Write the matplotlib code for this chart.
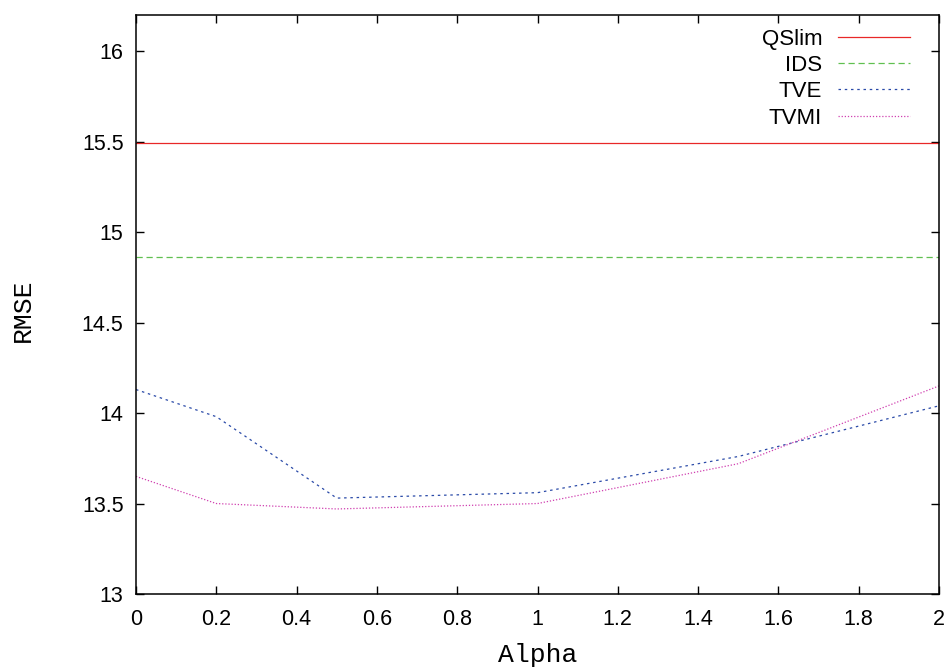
import matplotlib
matplotlib.use('Agg')
import matplotlib.pyplot as plt

# datos
alpha = [0, 0.2, 0.5, 1, 1.5, 2]
qslim = [15.495] * len(alpha)
ids = [14.865] * len(alpha)
tve = [14.13, 13.98, 13.53, 13.56, 13.76, 14.04]
tvmi = [13.65, 13.50, 13.47, 13.50, 13.72, 14.15]

xticks = [0, 0.2, 0.4, 0.6, 0.8, 1, 1.2, 1.4, 1.6, 1.8, 2]
xticklabels = ['0', '0.2', '0.4', '0.6', '0.8', '1', '1.2', '1.4', '1.6', '1.8', '2']
yticks = [13, 13.5, 14, 14.5, 15, 15.5, 16]
yticklabels = ['13', '13.5', '14', '14.5', '15', '15.5', '16']

plt.rcParams['font.family'] = ['Liberation Sans', 'DejaVu Sans']

fig = plt.figure(figsize=(9.51, 6.7), dpi=100)
ax = fig.add_axes([136 / 951, 76 / 670, 803 / 951, 579 / 670])

ax.plot(alpha, qslim, color='#e82828', lw=0.9, label='QSlim')
ax.plot(alpha, ids, color='#60c050', lw=0.9, dashes=(5, 3), label='IDS')
ax.plot(alpha, tve, color='#2a4aa8', lw=0.9, dashes=(2, 3), label='TVE')
ax.plot(alpha, tvmi, color='#d040b0', lw=0.9, dashes=(1, 1.5), label='TVMI')

ax.set_xlim(0, 2)
ax.set_ylim(13, 16.2)
ax.set_xticks(xticks, xticklabels)
ax.set_yticks(yticks, yticklabels)
ax.tick_params(direction='in', length=6, width=1, labelsize=15.5, pad=9,
               top=True, right=True)
ax.tick_params(axis='x', pad=11)
for s in ax.spines.values():
    s.set_linewidth(1.1)

# etiquetas de ejes en fuente monoespaciada
ax.set_xlabel('Alpha', family='Liberation Mono', fontsize=19)
ax.set_ylabel('RMSE', family='Liberation Mono', fontsize=19)
ax.xaxis.set_label_coords(0.5, -(655 - 594) / 579, transform=ax.transAxes)
ax.yaxis.set_label_coords(-(136 - 23) / 803, (594 - 310) / 579, transform=ax.transAxes)
ax.xaxis.label.set_va('center')
ax.yaxis.label.set_va('center')

ax.legend(loc='upper right', frameon=False, markerfirst=False, fontsize=16,
          handlelength=3.25, labelspacing=0.24, handletextpad=0.72,
          borderaxespad=0.3, borderpad=0.4,
          bbox_to_anchor=(1 - 13 / 803, 1 + 2 / 579))

fig.savefig('out.png', dpi=100)
